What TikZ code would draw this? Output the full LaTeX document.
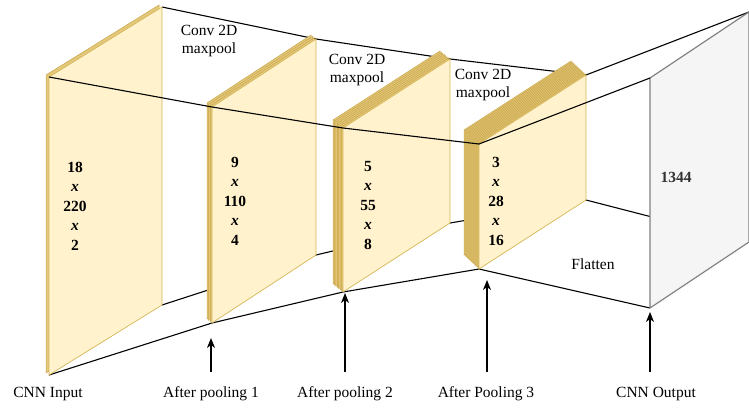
\documentclass[tikz,border=0pt]{standalone}
\usepackage{fontspec}
\setmainfont{Liberation Serif}
\usetikzlibrary{arrows.meta,calc}
\definecolor{lyfill}{HTML}{FFF2CC}
\definecolor{lyedge}{HTML}{D6B656}
\definecolor{lyback}{HTML}{E3C77A}
\definecolor{lybackedge}{HTML}{C9A648}
\definecolor{outfill}{HTML}{F5F5F5}
\definecolor{outedge}{HTML}{808080}
\definecolor{outtext}{HTML}{333333}
\newcommand{\drawstack}[4]{%
  \foreach \i in {#2,...,1}{%
    \pgfmathsetmacro{\ox}{(#3)*\i/#2}%
    \pgfmathsetmacro{\oy}{-(#4)*\i/#2}%
    \draw[backsheet] ([xshift=\ox pt,yshift=\oy pt]#1tl) -- ([xshift=\ox pt,yshift=\oy pt]#1tr) -- ([xshift=\ox pt,yshift=\oy pt]#1br) -- ([xshift=\ox pt,yshift=\oy pt]#1bl) -- cycle;
  }%
  \draw[sheet] (#1tl) -- (#1tr) -- (#1br) -- (#1bl) -- cycle;}
\begin{document}
\begin{tikzpicture}[x=1pt,y=-1pt,
  sheet/.style={fill=lyfill,draw=lyedge,line width=0.7pt,line join=miter},
  backsheet/.style={fill=lyback,draw=lybackedge,line width=0.5pt,line join=miter},
  wire/.style={draw=black,line width=1.1pt},
  outface/.style={fill=outfill,draw=outedge,line width=1.2pt},
  lbl/.style={font=\fontsize{15.5}{18.5}\selectfont,inner sep=0pt,align=center},
  dims/.style={font=\bfseries\fontsize{15.5}{19.5}\selectfont,inner sep=0pt,align=center},
  arr/.style={draw=black,line width=1.1pt,-{Stealth[length=10pt,width=8pt,inset=3pt]}}]
\useasboundingbox (0,0) rectangle (749,408);
% corners of the layers (front faces)
\coordinate (l1tl) at (49,77);  \coordinate (l1tr) at (162,7);
\coordinate (l1br) at (162,305); \coordinate (l1bl) at (49,375);
\coordinate (l2tl) at (212,107); \coordinate (l2tr) at (316,39);
\coordinate (l2br) at (316,255); \coordinate (l2bl) at (212,323);
\coordinate (l3tl) at (343,128); \coordinate (l3tr) at (450,59);
\coordinate (l3br) at (450,223); \coordinate (l3bl) at (343,292);
\coordinate (l4tl) at (479,144); \coordinate (l4tr) at (586,75);
\coordinate (l4br) at (586,200); \coordinate (l4bl) at (479,269);
\coordinate (otl) at (650,78);  \coordinate (otr) at (749,12);
\coordinate (obr) at (749,242); \coordinate (obl) at (650,308);
% connecting lines behind the layers
\draw[wire] (l1tr) -- (l2tr) -- (l3tr) -- (l4tr) -- (otr);
\draw[wire] (l1br) -- (l2br) -- (l3br) -- (l4br) -- (obr);
\draw[wire] (l1bl) -- (l2bl) -- (l3bl) -- (l4bl) -- (obl);
% layers
\drawstack{l1}{1}{-3}{-2}
\drawstack{l2}{3}{-5}{-4}
\drawstack{l3}{7}{-10}{-8}
\drawstack{l4}{15}{-15}{-14}
% output
\draw[outface] (otl) -- (otr) -- (obr) -- (obl) -- cycle;
% lines in front
\draw[wire] (l1tl) -- (l2tl) -- (l3tl) -- (l4tl) -- (otl);
% texts
\node[dims] (d1) at (75,206) {18\\\textit{x}\\220\\\textit{x}\\2};
\node[dims] (d2) at (235,201) {9\\\textit{x}\\110\\\textit{x}\\4};
\node[dims] (d3) at (368,205) {5\\\textit{x}\\55\\\textit{x}\\8};
\node[dims] (d4) at (496,201) {3\\\textit{x}\\28\\\textit{x}\\16};
\node[dims,text=outtext] (o1) at (676,177) {1344};
\node[lbl] (c1) at (209,41) {Conv 2D\\maxpool};
\node[lbl] (c2) at (357,70) {Conv 2D\\maxpool};
\node[lbl] (c3) at (483,85) {Conv 2D\\maxpool};
\node[lbl] (fl) at (593,264) {Flatten};
\node[lbl] (b1) at (48,394) {CNN Input};
\node[lbl] (b2) at (211,394) {After pooling 1};
\node[lbl] (b3) at (345,394) {After pooling 2};
\node[lbl] (b4) at (486,394) {After Pooling 3};
\node[lbl] (b5) at (656,394) {CNN Output};
% arrows
\coordinate (a2s) at (211,372); \coordinate (a2e) at (211,338);
\coordinate (a3s) at (345,372); \coordinate (a3e) at (345,293);
\coordinate (a4s) at (487,372); \coordinate (a4e) at (487,280);
\coordinate (a5s) at (650,372); \coordinate (a5e) at (650,312);
\draw[arr] (a2s) -- (a2e);
\draw[arr] (a3s) -- (a3e);
\draw[arr] (a4s) -- (a4e);
\draw[arr] (a5s) -- (a5e);
\end{tikzpicture}
\end{document}
